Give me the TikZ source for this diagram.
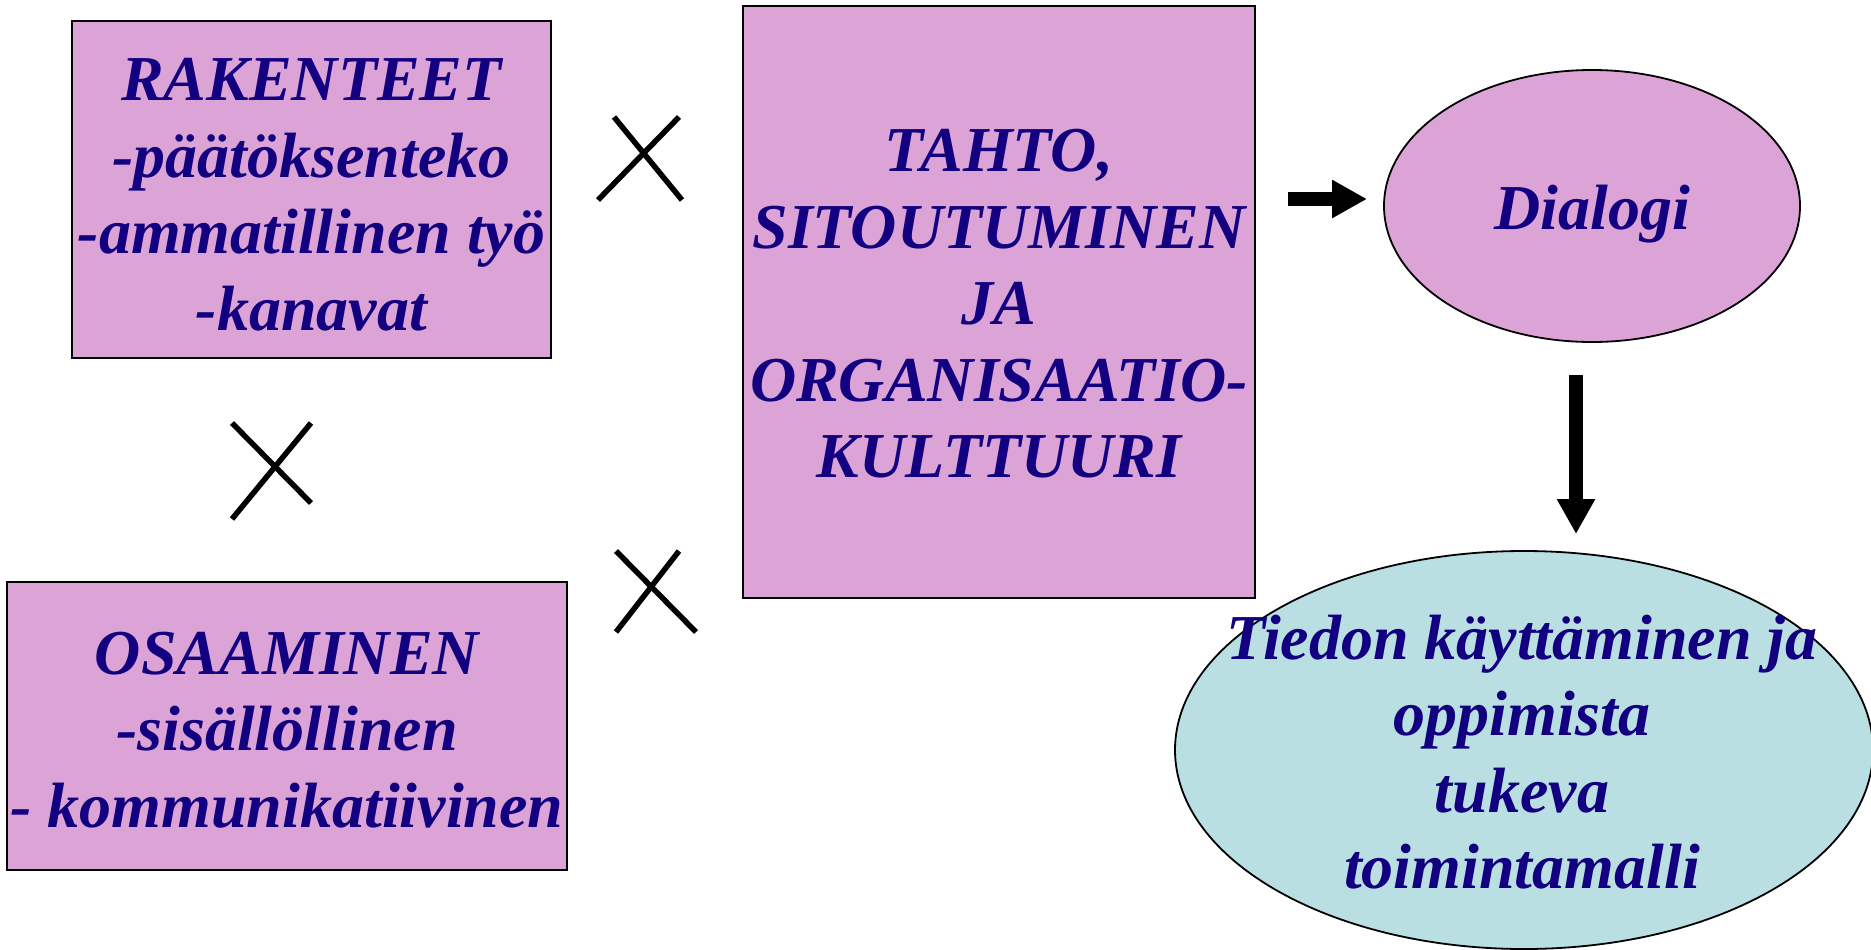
\documentclass[tikz,border=0pt]{standalone}
\usepackage{fontspec}
\setmainfont{Liberation Serif}
\usetikzlibrary{shapes.geometric,arrows.meta}
\definecolor{boxpink}{RGB}{220,164,214}
\definecolor{ovalblue}{RGB}{186,223,226}
\definecolor{txtnavy}{RGB}{18,0,128}
\tikzset{
  pinkbox/.style={draw=black, line width=1.8pt, fill=boxpink, rectangle, inner sep=0pt},
  pinkoval/.style={draw=black, line width=1.8pt, fill=boxpink, ellipse, inner sep=0pt},
  blueoval/.style={draw=black, line width=1.8pt, fill=ovalblue, ellipse, inner sep=0pt},
  lbl/.style={font=\fontsize{64}{76.5}\selectfont\bfseries\itshape, text=txtnavy, align=center, inner sep=0pt},
  crossline/.style={draw=black, line width=5.5pt},
  blockarrow/.style={draw=black, line width=13.5pt, -{Triangle[length=35pt,width=36pt]}}
}
\begin{document}
\begin{tikzpicture}[x=1pt,y=-1pt]
\useasboundingbox (0,0) rectangle (1871,950);
% boxes
\node[pinkbox, minimum width=479pt, minimum height=337pt] (rak) at (311.5,189.5) {};
\node[lbl] (raktxt) at ([yshift=-5pt]rak.center) {RAKENTEET\\-päätöksenteko\\-ammatillinen työ\\-kanavat};
\node[pinkbox, minimum width=560pt, minimum height=288pt] (osa) at (287,726) {};
\node[lbl] (osatxt) at ([yshift=-4pt]osa.center) {OSAAMINEN\\-sisällöllinen\\- kommunikatiivinen};
\node[pinkbox, minimum width=512pt, minimum height=592pt] (tah) at (999,302) {};
\node[lbl] (tahtxt) at ([yshift=-2pt]tah.center) {TAHTO,\\SITOUTUMINEN\\JA\\ORGANISAATIO-\\KULTTUURI};
% ellipses
\node[pinkoval, minimum width=416pt, minimum height=272pt] (dia) at (1592,206) {};
\node[lbl] (diatxt) at ([yshift=-8pt]dia.center) {Dialogi};
\node[blueoval, minimum width=698pt, minimum height=398pt] (tie) at (1524,750) {};
\node[lbl] (tietxt) at (1522,752) {Tiedon käyttäminen ja\\oppimista\\tukeva\\toimintamalli};
% arrows
\coordinate (a1s) at (1288,199);
\coordinate (a1e) at (1367,199);
\coordinate (a2s) at (1576,375);
\coordinate (a2e) at (1576,534);
\draw[blockarrow] (a1s) -- (a1e);
\draw[blockarrow] (a2s) -- (a2e);
% crosses
\draw[crossline] (598,200) -- (679,117);
\draw[crossline] (614,117) -- (682,200);
\draw[crossline] (232,519) -- (311,423);
\draw[crossline] (232,423) -- (311,503);
\draw[crossline] (616,632) -- (679,551);
\draw[crossline] (616,551) -- (696,632);
\end{tikzpicture}
\end{document}
